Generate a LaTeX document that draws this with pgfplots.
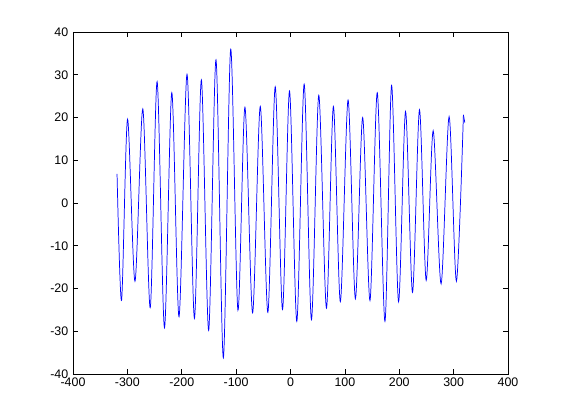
\documentclass[border=0pt]{standalone}
\usepackage{pgfplots}
\pgfplotsset{compat=1.18}
\usepackage{fontspec}
\setmainfont{Liberation Sans}
\begin{document}
\begin{tikzpicture}
\useasboundingbox (-54.75pt,-34.5pt) rectangle (366pt,280.5pt);
\begin{axis}[
  at={(0pt,0pt)}, anchor=south west,
  scale only axis,
  width=326.25pt, height=256.5pt,
  xmin=-400, xmax=400, ymin=-40, ymax=40,
  xtick={-400,-300,...,400},
  ytick={-40,-30,...,40},
  tick align=inside,
  major tick length=3.5pt,
  xtick pos=both, ytick pos=both,
  axis line style={line width=0.5pt},
  tick style={line width=0.5pt, black},
  /pgf/number format/assume math mode=true,
  ticklabel style={font=\fontsize{9.3}{11}\selectfont},
  xticklabel style={yshift=1pt},
]
\addplot[blue, line width=0.55pt, smooth, tension=0.5] coordinates {
(-319,6.8) (-310.7,-22.8) (-299.7,19.6) (-286,-18.3) (-271.6,22.0)
(-258,-24.5) (-245.3,28.4) (-231.8,-29.2) (-218.3,25.8) (-205,-26.6)
(-190.3,30.1) (-176.7,-27.0) (-163.9,28.8) (-150.5,-29.8) (-137,33.5)
(-123.5,-36.2) (-110,36.0) (-96.7,-25.1) (-83.8,22.4) (-69.7,-25.7)
(-55.6,22.6) (-41.6,-25.6) (-28.1,27.2) (-14.7,-24.9) (-1.8,26.2)
(11.6,-27.7) (25.1,27.8) (38.5,-27.3) (52,25.2) (66.1,-24.6)
(78.9,22.6) (91.7,-23.1) (105.9,24.1) (119.3,-22.4) (132.7,20.0)
(146.2,-22.8) (159.6,25.8) (173.7,-27.7) (185.9,27.5) (198.7,-23.1)
(211.6,21.4) (224.4,-20.9) (237.2,21.8) (249.5,-18.1) (262.4,16.9)
(277,-18.9) (291.7,20.2) (305.1,-18.3) (318,20.6)
};
\addplot[blue, line width=0.55pt] coordinates {(318,20.6) (320.6,18.8)};
\end{axis}
\end{tikzpicture}
\end{document}
